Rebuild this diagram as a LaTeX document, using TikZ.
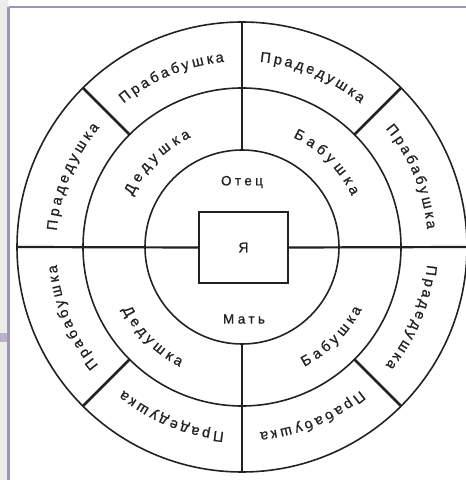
\documentclass[tikz,border=0pt]{standalone}
\usepackage{fontspec}
\setmainfont{Liberation Sans}[BoldFont=Liberation Sans, BoldFeatures={FakeBold=1.0}]
\usetikzlibrary{decorations.text}
\definecolor{ink}{HTML}{222222}
\definecolor{frameline}{HTML}{9E96B4}
\definecolor{stripcol}{HTML}{ECEDE9}
\definecolor{barcol}{HTML}{B9B3C9}
\tikzset{
  ring/.style={draw=ink, line width=1.6pt},
  axisline/.style={draw=ink, line width=2.2pt},
  sepline/.style={draw=ink, line width=2.8pt},
  arclabel/.style={decorate, decoration={text effects along path, text={#1},
      text effects/.cd, text along path, fit text to path,
      characters={text=ink, font=\fontsize{14.5}{14.5}\selectfont\bfseries}}},
  centerbox/.style={draw=ink, line width=1.6pt, minimum width=89pt, minimum height=71pt, inner sep=0pt, font=\fontsize{14}{14}\selectfont\bfseries, text=ink},
  innerlabel/.style={font=\fontsize{13.5}{13.5}\selectfont\bfseries\addfontfeature{LetterSpace=25}, text=ink, inner sep=0pt},
}
\newcommand\cwlabel[4]{\path[arclabel={#4}] ({#1+#2/2}:#3) arc[start angle={#1+#2/2}, end angle={#1-#2/2}, radius=#3];}
\newcommand\ccwlabel[4]{\path[arclabel={#4}] ({#1-#2/2}:#3) arc[start angle={#1-#2/2}, end angle={#1+#2/2}, radius=#3];}
\begin{document}
\begin{tikzpicture}[x=1pt,y=1pt]
\useasboundingbox (0,0) rectangle (466,480);
% slide frame
\fill[stripcol] (0,0) rectangle (8,480);
\fill[barcol] (0,138) rectangle (8,147);
\draw[frameline, line width=2.4pt] (8.6,0) -- (8.6,473);
\draw[frameline, line width=2pt] (8.6,473) -- (466,473);
\begin{scope}[shift={(242,233)}]
  \draw[ring] (0,0) circle[radius=225pt];
  \draw[ring] (0,0) circle[radius=159pt];
  \draw[ring] (0,0) circle[radius=97pt];
  \node[centerbox] (me) at (1.5,-0.5) {Я};
  % axes
  \draw[axisline] (90:97pt) -- (90:225pt);
  \draw[axisline] (-90:97pt) -- (-90:225pt);
  \draw[axisline] (180:225pt) -- (me.west);
  \draw[axisline] (me.east) -- (0:225pt);
  % separators in outer ring
  \foreach \a in {45,135,-45,-135} \draw[sepline] (\a:159pt) -- (\a:225pt);
  % inner labels
  \node[innerlabel] (father) at (0,65) {Отец};
  \node[innerlabel] (mother) at (2,-72) {Мать};
  % middle ring
  \cwlabel{135}{40}{121pt}{Дедушка}
  \cwlabel{45}{40}{121pt}{Бабушка}
  \ccwlabel{-135}{35}{135pt}{Дедушка}
  \ccwlabel{-45}{35}{135pt}{Бабушка}
  % outer ring
  \cwlabel{112.5}{34}{186pt}{Прабабушка}
  \cwlabel{157.5}{35}{186pt}{Прадедушка}
  \cwlabel{67.5}{34}{186pt}{Прадедушка}
  \cwlabel{22.5}{34}{186pt}{Прабабушка}
  \cwlabel{-22.5}{34}{186pt}{Прадедушка}
  \cwlabel{-67.5}{34}{186pt}{Прабабушка}
  \cwlabel{-112.5}{34}{186pt}{Прадедушка}
  \cwlabel{-157.5}{34}{186pt}{Прабабушка}
\end{scope}
\end{tikzpicture}
\end{document}
